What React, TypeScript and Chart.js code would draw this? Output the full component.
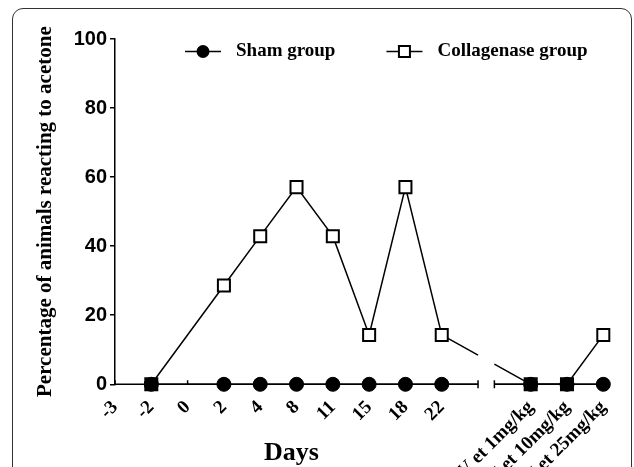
import React, { useEffect, useRef } from 'react';
import { Chart, registerables } from 'chart.js';

Chart.register(...registerables);

// ---------- data ----------
const xLabels = ['-3', '-2', '0', '2', '4', '8', '11', '15', '18', '22', 'Coll + V et 1mg/kg', 'Coll + V et 10mg/kg', 'Coll + V et 25mg/kg'];
const DAY_COUNT = 10; // categories before the axis break
const shamValues: (number | null)[] = [null, 0, null, 0, 0, 0, 0, 0, 0, 0, 0, 0, 0];
const collagenaseValues: (number | null)[] = [null, 0, null, 28.6, 42.9, 57.1, 42.9, 14.3, 57.1, 14.3, 0, 0, 14.3];
const yTicks = [0, 20, 40, 60, 80, 100];
const seriesNames = ['Sham group', 'Collagenase group'];
const xTitle = 'Days';
const yTitle = 'Percentage of animals reacting to acetone';

// ---------- layout / style ----------
const BREAK_GAP = 0.45; // width of the axis break in category units
const positionOf = (i: number) => (i < DAY_COUNT ? i : i + 1 + BREAK_GAP);
const SERIF = '"Liberation Serif", "Times New Roman", serif';
const SANS = '"Liberation Sans", Arial, sans-serif';

const toPoints = (vals: (number | null)[]) => vals.map((v, i) => ({ x: positionOf(i), y: v }));

const breakSegment = {
  borderDash: (ctx: any) => {
    const xs = ctx.chart.scales.x;
    const p0 = ctx.p0, p1 = ctx.p1;
    const b0 = xs.getPixelForValue(DAY_COUNT);
    const b1 = xs.getPixelForValue(DAY_COUNT + BREAK_GAP);
    if (!(p0.x < b0 && p1.x > b1)) return undefined;
    const len = Math.hypot(p1.x - p0.x, p1.y - p0.y);
    const k = len / (p1.x - p0.x);
    return [(b0 - p0.x) * k, (b1 - b0) * k, len * 2];
  },
};

const axisBreakPlugin = {
  id: 'axisBreak',
  beforeDatasetsDraw(chart: any) {
    const { ctx } = chart;
    const xs = chart.scales.x;
    const y = xs.top;
    const b0 = xs.getPixelForValue(DAY_COUNT);
    const b1 = xs.getPixelForValue(DAY_COUNT + BREAK_GAP);
    ctx.save();
    ctx.strokeStyle = '#000';
    ctx.lineWidth = 1.5;
    ctx.beginPath();
    ctx.moveTo(xs.left, y);
    ctx.lineTo(b0, y);
    ctx.moveTo(b1, y);
    ctx.lineTo(xs.right, y);
    ctx.moveTo(b0, y - 4);
    ctx.lineTo(b0, y + 4);
    ctx.moveTo(b1, y - 4);
    ctx.lineTo(b1, y + 4);
    xs.ticks.forEach((t: any) => {
      const px = xs.getPixelForValue(t.value);
      ctx.moveTo(px, y);
      ctx.lineTo(px, y - 4);
    });
    ctx.stroke();
    ctx.restore();
  },
};

const legendOrder = [0, 1];
const lineLegendPlugin = {
  id: 'lineLegend',
  afterDraw(chart: any) {
    const { ctx, chartArea } = chart;
    const y = chartArea.top + 12.5;
    let x = chartArea.left + 70;
    ctx.save();
    ctx.font = `bold 19px ${SERIF}`;
    ctx.textBaseline = 'middle';
    ctx.textAlign = 'left';
    legendOrder.forEach((di) => {
      const ds = chart.data.datasets[di];
      const L = 36;
      ctx.strokeStyle = '#000';
      ctx.lineWidth = 1.5;
      ctx.beginPath();
      ctx.moveTo(x, y);
      ctx.lineTo(x + L, y);
      ctx.stroke();
      const cx = x + L / 2;
      if (ds.pointStyle === 'rect') {
        const s = 11;
        ctx.fillStyle = '#fff';
        ctx.fillRect(cx - s / 2, y - s / 2, s, s);
        ctx.lineWidth = 2;
        ctx.strokeRect(cx - s / 2, y - s / 2, s, s);
      } else {
        ctx.fillStyle = '#000';
        ctx.beginPath();
        ctx.arc(cx, y, 6.5, 0, Math.PI * 2);
        ctx.fill();
      }
      ctx.fillStyle = '#000';
      const tx = x + L + 15;
      ctx.fillText(ds.label, tx, y);
      x = tx + ctx.measureText(ds.label).width + 51;
    });
    ctx.restore();
  },
};

const xTitlePlugin = {
  id: 'xTitle',
  afterDraw(chart: any) {
    const { ctx, chartArea } = chart;
    const xs = chart.scales.x;
    const cx = (xs.getPixelForValue(0) + xs.getPixelForValue(DAY_COUNT)) / 2 - 5;
    ctx.save();
    ctx.font = `bold 26px ${SERIF}`;
    ctx.fillStyle = '#000';
    ctx.textAlign = 'center';
    ctx.textBaseline = 'alphabetic';
    ctx.fillText(xTitle, cx, chartArea.bottom + 76);
    ctx.restore();
  },
};

export default function App() {
  const ref = useRef<HTMLCanvasElement>(null);

  useEffect(() => {
    if (!ref.current) return;
    const chart = new Chart(ref.current, {
      type: 'line',
      data: {
        datasets: [
          {
            label: seriesNames[0],
            data: toPoints(shamValues),
            borderColor: '#000',
            borderWidth: 1.5,
            pointStyle: 'circle',
            pointRadius: 7,
            pointBackgroundColor: '#000',
            pointBorderColor: '#000',
            pointBorderWidth: 1,
            spanGaps: true,
            clip: false,
            order: 1,
            segment: breakSegment,
          } as any,
          {
            label: seriesNames[1],
            data: toPoints(collagenaseValues),
            borderColor: '#000',
            borderWidth: 1.5,
            pointStyle: 'rect',
            pointRadius: 8.5,
            pointBackgroundColor: collagenaseValues.map((v) => (v === 0 ? '#000' : '#fff')),
            pointBorderColor: '#000',
            pointBorderWidth: 2,
            spanGaps: true,
            clip: false,
            order: 0,
            segment: breakSegment,
          } as any,
        ],
      },
      options: {
        animation: false,
        responsive: false,
        maintainAspectRatio: false,
        layout: { padding: { left: 14, top: 39, right: 30.7, bottom: 0 } },
        plugins: { legend: { display: false }, tooltip: { enabled: false } },
        scales: {
          x: {
            type: 'linear',
            min: 0,
            max: positionOf(xLabels.length - 1),
            afterBuildTicks: (s: any) => {
              s.ticks = xLabels.map((_, i) => ({ value: positionOf(i) }));
            },
            afterFit: (s: any) => {
              s.height = 82.7;
            },
            ticks: {
              autoSkip: false,
              minRotation: 45,
              maxRotation: 45,
              padding: 4,
              color: '#000',
              font: { family: SERIF, size: 19, weight: 'bold' },
              callback: (_v: any, i: number) => xLabels[i],
            },
            grid: { display: false },
            border: { display: false },
          },
          y: {
            min: 0,
            max: 100,
            afterBuildTicks: (s: any) => {
              s.ticks = yTicks.map((v) => ({ value: v }));
            },
            afterFit: (s: any) => {
              s.width = 101;
            },
            ticks: {
              padding: 3,
              color: '#000',
              font: { family: SANS, size: 20, weight: 'bold' },
            },
            grid: { drawOnChartArea: false, drawTicks: true, tickLength: 5, color: '#000', lineWidth: 1.5 },
            border: { display: true, color: '#000', width: 1.5 },
            title: {
              display: true,
              text: yTitle,
              color: '#000',
              font: { family: SERIF, size: 21, weight: 'bold' },
              padding: { top: 19, bottom: 0 },
            },
          },
        },
      } as any,
      plugins: [axisBreakPlugin, lineLegendPlugin, xTitlePlugin],
    });
    return () => chart.destroy();
  }, []);

  return (
    <div style={{ position: 'fixed', left: 0, top: 0, width: 634, height: 467, background: '#fff', overflow: 'hidden' }}>
      <div
        style={{
          position: 'absolute',
          left: 12,
          top: 8,
          width: 620,
          height: 540,
          border: '1.5px solid #333',
          borderRadius: 11,
          boxSizing: 'border-box',
        }}
      />
      <canvas ref={ref} width={634} height={467} style={{ position: 'absolute', left: 0, top: 0, width: 634, height: 467 }} />
    </div>
  );
}
